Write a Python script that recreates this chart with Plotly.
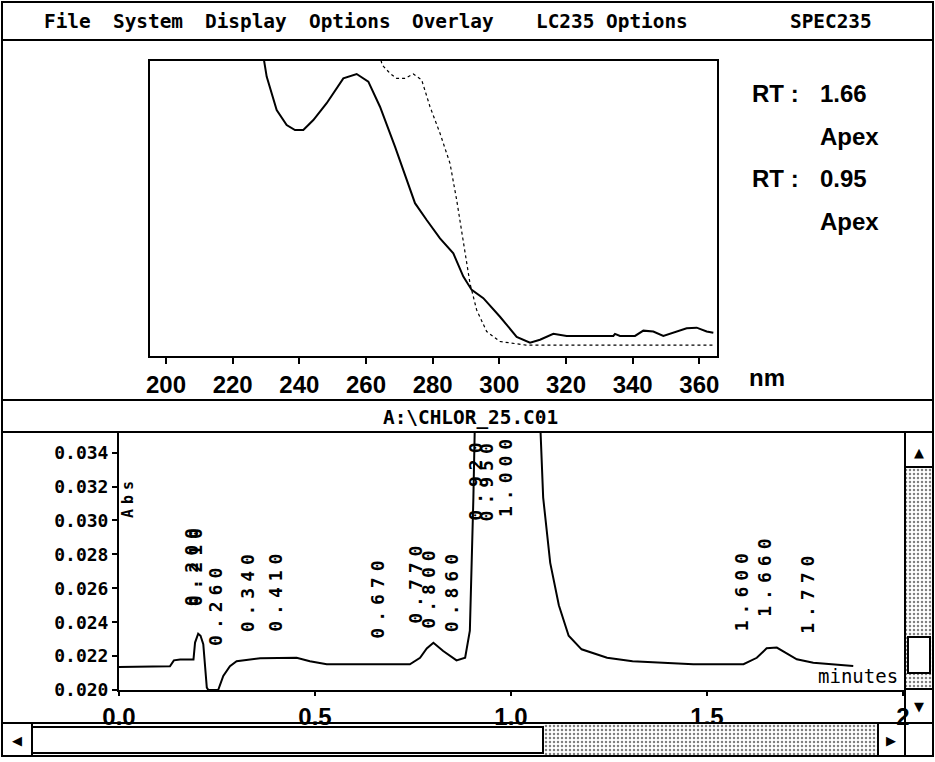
import plotly.graph_objects as go

W, H = 935, 762

# ---------------- data ----------------
# UV spectra (upper panel), relative absorbance 0..1 of the plot box height
spec_nm_solid = [228.0, 229.4, 230.2, 233.2, 236.2, 238.7, 241.2, 244.2, 248.2, 253.2,
                 257.2, 260.7, 264.2, 268.7, 272.2, 274.7, 278.2, 282.2, 286.2, 289.2,
                 291.7, 295.2, 300.2, 305.2, 309.2, 312.2, 316.2, 320.2, 334.2, 334.7,
                 336.2, 340.7, 343.2, 346.2, 349.2, 353.2, 356.2, 359.2, 362.2, 364.2]
spec_abs_solid = [1.10, 1.00, 0.947, 0.834, 0.783, 0.766, 0.766, 0.800, 0.857, 0.941,
                  0.956, 0.930, 0.845, 0.710, 0.597, 0.518, 0.461, 0.399, 0.348, 0.269,
                  0.224, 0.196, 0.133, 0.065, 0.045, 0.055, 0.075, 0.068, 0.068, 0.075,
                  0.068, 0.068, 0.086, 0.083, 0.068, 0.083, 0.094, 0.096, 0.083, 0.079]
spec_nm_dotted = [262.0, 264.9, 267.2, 269.2, 271.7, 274.2, 276.7, 279.2, 282.2, 285.2,
                  287.2, 289.2, 291.2, 293.2, 296.2, 300.2, 304.2, 308.0, 364.5]
spec_abs_dotted = [1.10, 0.986, 0.958, 0.941, 0.941, 0.956, 0.936, 0.845, 0.755, 0.653,
                   0.529, 0.382, 0.246, 0.156, 0.083, 0.049, 0.043, 0.037, 0.037]
spec_ticks = [200, 220, 240, 260, 280, 300, 320, 340, 360]

# chromatogram (lower panel)
chrom_min = [0.000, 0.130, 0.140, 0.156, 0.190, 0.194, 0.202, 0.208, 0.215, 0.224,
             0.228, 0.253, 0.266, 0.283, 0.300, 0.360, 0.453, 0.487, 0.530, 0.589,
             0.742, 0.768, 0.785, 0.802, 0.827, 0.861, 0.883, 0.895, 0.900, 0.904,
             0.908, 1.074, 1.082, 1.100, 1.122, 1.147, 1.180, 1.245, 1.310, 1.465,
             1.593, 1.627, 1.652, 1.678, 1.729, 1.771, 1.873]
chrom_abs = [0.02136, 0.02140, 0.02175, 0.02180, 0.02180, 0.02280, 0.02332, 0.02320, 0.02270, 0.02014,
             0.02000, 0.02000, 0.02083, 0.02140, 0.02170, 0.02187, 0.02190, 0.02170, 0.02152, 0.02152,
             0.02152, 0.02190, 0.02245, 0.02279, 0.02230, 0.02175, 0.02190, 0.02350, 0.02740, 0.03135,
             0.03600, 0.03600, 0.03135, 0.02750, 0.02500, 0.02320, 0.02240, 0.02190, 0.02170, 0.02152,
             0.02152, 0.02190, 0.02246, 0.02250, 0.02181, 0.02161, 0.02142]
peak_times = [0.200, 0.210, 0.260, 0.340, 0.410, 0.670, 0.770, 0.800, 0.860,
              0.920, 0.950, 1.000, 1.600, 1.660, 1.770]
peak_label_abs = [0.02484, 0.02484, 0.02248, 0.02330, 0.02330, 0.02289, 0.02378, 0.02348, 0.02330,
                  0.02985, 0.02985, 0.03009, 0.02336, 0.02419, 0.02319]
chrom_xticks = [0.0, 0.5, 1.0, 1.5, 2.0]
chrom_xticktext = ["0.0", "0.5", "1.0", "1.5", "2"]
chrom_yticks = [0.020, 0.022, 0.024, 0.026, 0.028, 0.030, 0.032, 0.034]

menu_items = ["File", "System", "Display", "Options", "Overlay", "LC235 Options"]
menu_right = "SPEC235"
file_title = "A:\\CHLOR_25.C01"
rt_values = ["1.66", "0.95"]

# ---------------- styling ----------------
MONO = "DejaVu Sans Mono"
NARROW = "Liberation Sans Narrow, Liberation Sans, Arial, sans-serif"
BLK = "black"


def px(x):
    return x / W


def py(y):
    return 1 - y / H


fig = go.Figure()

# spectra
fig.add_trace(go.Scatter(x=spec_nm_solid, y=spec_abs_solid, mode="lines",
                         line=dict(color=BLK, width=2), xaxis="x", yaxis="y",
                         hoverinfo="skip"))
fig.add_trace(go.Scatter(x=spec_nm_dotted, y=spec_abs_dotted, mode="lines",
                         line=dict(color=BLK, width=1.2, dash="dot"), xaxis="x", yaxis="y",
                         hoverinfo="skip"))
# chromatogram
fig.add_trace(go.Scatter(x=chrom_min, y=chrom_abs, mode="lines",
                         line=dict(color=BLK, width=2), xaxis="x2", yaxis="y2",
                         hoverinfo="skip"))

# dotted scrollbar troughs (pixel overlay axis)
pat = dict(shape=".", size=4, solidity=0.3, fgcolor=BLK, bgcolor="white")
for (x0, y0, x1, y1) in [(905, 467, 933, 689), (543, 723, 878, 756)]:
    fig.add_trace(go.Scatter(x=[x0, x1, x1, x0, x0], y=[y0, y0, y1, y1, y0],
                             mode="lines", fill="toself", fillpattern=pat,
                             fillcolor="white", line=dict(width=0),
                             xaxis="x3", yaxis="y3", hoverinfo="skip"))

shapes = []


def line(x0, y0, x1, y1, w=2):
    shapes.append(dict(type="line", xref="x3", yref="y3", x0=x0, y0=y0, x1=x1, y1=y1,
                       line=dict(color=BLK, width=w), layer="above"))


def rect(x0, y0, x1, y1, fill="rgba(0,0,0,0)", w=2):
    shapes.append(dict(type="rect", xref="x3", yref="y3", x0=x0, y0=y0, x1=x1, y1=y1,
                       fillcolor=fill, line=dict(color=BLK, width=w), layer="above"))


# window chrome
rect(2, 2, 933, 756)
line(2, 40, 933, 40)
line(2, 400, 933, 400)
line(2, 432, 933, 432)
line(905, 432, 905, 756)
line(905, 467, 933, 467)
line(905, 689, 933, 689)
line(2, 723, 933, 723)
line(32, 723, 32, 756)
line(878, 723, 878, 756)
rect(32, 727, 543, 753, fill="white")
rect(908, 637, 930, 673, fill="white")

ann = []


def text(x, y, s, size=19.4, family=MONO, xanchor="left", yanchor="middle", weight="bold",
         angle=0):
    ann.append(dict(xref="x3", yref="y3", x=x, y=y, text=s, showarrow=False,
                    xanchor=xanchor, yanchor=yanchor, textangle=angle,
                    font=dict(family=family, size=size, color=BLK, weight=weight)))


# menu bar
menu_x = [42, 111, 203, 307, 410, 534]
for mx, item in zip(menu_x, menu_items):
    text(mx, 21, item)
text(874, 21, menu_right, xanchor="right")

# file title
text(470, 417, file_title, xanchor="center")

# RT labels
for i, rv in enumerate(rt_values):
    yb = 93 + 85 * i
    text(750, yb, "RT :", size=24, family=NARROW)
    text(818, yb, rv, size=24, family=NARROW)
    text(818, yb + 43, "Apex", size=24, family=NARROW)

text(747, 377, "nm", size=24, family=NARROW)

# axis captions in lower plot
text(128, 497, '<span style="letter-spacing:5px">Abs</span>', size=15, angle=-90,
     xanchor="center")
text(900, 676, "minutes", size=19, xanchor="right", weight="normal")

# scroll arrows
text(919, 452, "▲", size=13, family="DejaVu Sans", xanchor="center")
text(919, 706, "▼", size=13, family="DejaVu Sans", xanchor="center")
text(17, 740, "◀", size=13, family="DejaVu Sans", xanchor="center")
text(891, 740, "▶", size=13, family="DejaVu Sans", xanchor="center")

# peak retention-time labels
for t, yl in zip(peak_times, peak_label_abs):
    ann.append(dict(xref="x2", yref="y2", x=t, y=yl,
                    text='<span style="letter-spacing:6px">%.3f</span>' % t,
                    showarrow=False, textangle=-90, xanchor="center", yanchor="bottom",
                    xshift=-5,
                    font=dict(family=MONO, size=18, color=BLK, weight="bold")))

axis_common = dict(showgrid=False, zeroline=False, linecolor=BLK, linewidth=2,
                   tickcolor=BLK, tickwidth=2, fixedrange=True, automargin=False)

fig.update_layout(
    width=W, height=H, autosize=False,
    margin=dict(l=0, r=0, t=0, b=0, pad=0, autoexpand=False),
    paper_bgcolor="white", plot_bgcolor="rgba(0,0,0,0)",
    showlegend=False,
    xaxis=dict(domain=[px(150), px(717)], range=[195.2, 365.3], anchor="y",
               tickvals=spec_ticks, ticks="outside", ticklen=6, showline=True, mirror=True,
               tickfont=dict(family=NARROW, size=24, color=BLK, weight="bold"),
               **axis_common),
    yaxis=dict(domain=[py(356), py(61)], range=[0, 1], anchor="x",
               showline=True, mirror=True, showticklabels=False, ticks="",
               **axis_common),
    xaxis2=dict(domain=[px(119), px(905)], range=[0, 2.005], anchor="y2",
                tickvals=chrom_xticks, ticktext=chrom_xticktext, ticks="outside", ticklen=4,
                showline=True, ticklabelstandoff=0,
                tickfont=dict(family=NARROW, size=24, color=BLK, weight="bold"),
                **axis_common),
    yaxis2=dict(domain=[py(690), py(432)], range=[0.020, 0.03522], anchor="x2",
                tickvals=chrom_yticks, ticktext=["%.3f" % v for v in chrom_yticks],
                ticks="outside", ticklen=5, showline=True,
                tickfont=dict(family=MONO, size=18, color=BLK, weight="bold"),
                **axis_common),
    xaxis3=dict(domain=[0, 1], range=[0, W], visible=False, fixedrange=True, anchor="y3",
                automargin=False),
    yaxis3=dict(domain=[0, 1], range=[H, 0], visible=False, fixedrange=True, anchor="x3",
                automargin=False),
    shapes=shapes,
    annotations=ann,
)

fig.write_html(
    "out.html",
    config={"displayModeBar": False},
    post_script="document.body.style.margin='0';document.body.style.padding='0';"
                "document.body.style.overflow='hidden';",
)
